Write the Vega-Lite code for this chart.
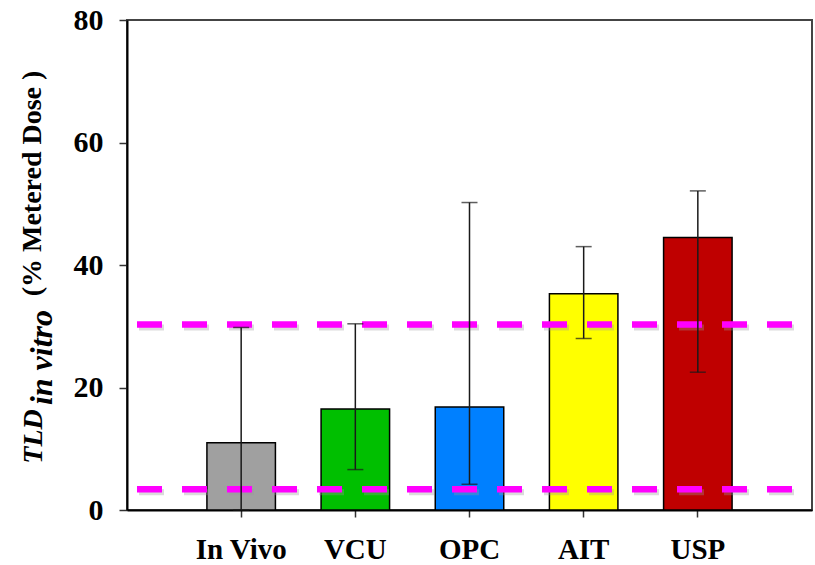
{
  "$schema": "https://vega.github.io/schema/vega-lite/v6.json",
  "width": 685,
  "height": 490,
  "autosize": {"type": "none"},
  "padding": {"left": 127, "top": 20, "right": 3, "bottom": 55},
  "background": "white",
  "config": {
    "view": {"stroke": "#444", "strokeWidth": 2},
    "font": "Liberation Serif",
    "axis": {
      "zindex": 1,
      "grid": false,
      "domainColor": "black",
      "domainWidth": 2,
      "tickColor": "#333",
      "tickWidth": 1.5,
      "labelFont": "Liberation Serif",
      "labelFontWeight": "bold",
      "labelFontSize": 29,
      "labelColor": "black",
      "titleFont": "Liberation Serif",
      "titleFontWeight": "bold",
      "titleColor": "black"
    }
  },
  "datasets": {
    "bars": [
      {"cat": "In Vivo", "value": 11.0, "lower": 0, "upper": 29.8},
      {"cat": "VCU", "value": 16.5, "lower": 6.6, "upper": 30.4},
      {"cat": "OPC", "value": 16.8, "lower": 4.2, "upper": 50.2},
      {"cat": "AIT", "value": 35.3, "lower": 28.0, "upper": 43.0},
      {"cat": "USP", "value": 44.5, "lower": 22.5, "upper": 52.1}
    ],
    "refs": [{"ref": 30.3}, {"ref": 3.4}]
  },
  "resolve": {"axis": {"y": "independent"}},
  "layer": [
    {
      "data": {"name": "bars"},
      "mark": {"type": "bar", "stroke": "black", "strokeWidth": 1.5},
      "encoding": {
        "x": {
          "field": "cat", "type": "nominal", "sort": null,
          "scale": {"paddingInner": 0.4, "paddingOuter": 0.7},
          "axis": {"title": null, "labelAngle": 0, "tickSize": 7, "labelPadding": 18, "domain": true}
        },
        "y": {
          "field": "value", "type": "quantitative",
          "scale": {"domain": [0, 80], "nice": false},
          "axis": {
            "orient": "left",
            "values": [0, 20, 40, 60, 80],
            "tickSize": 8,
            "labelPadding": 16,
            "labelFontSize": 30,
            "title": "(% Metered Dose )",
            "titleFontSize": 28,
            "titleAngle": -90,
            "titleAlign": "center",
            "titleBaseline": "alphabetic",
            "titleX": -87,
            "titleY": 163
          }
        },
        "color": {
          "field": "cat", "type": "nominal",
          "scale": {"domain": ["In Vivo", "VCU", "OPC", "AIT", "USP"], "range": ["#A0A0A0", "#00BF00", "#0080FF", "#FFFF00", "#BF0000"]},
          "legend": null
        }
      }
    },
    {
      "data": {"name": "refs"},
      "mark": {"type": "rule", "stroke": "#999999", "opacity": 0.35, "strokeWidth": 6, "strokeDash": [25, 20], "strokeDashOffset": 27, "yOffset": 3},
      "encoding": {
        "y": {
          "field": "ref", "type": "quantitative",
          "scale": {"domain": [0, 80], "nice": false},
          "axis": {
            "orient": "left",
            "labels": false, "ticks": false, "domain": false,
            "title": "TLD",
            "titleFontSize": 28,
            "titleFontStyle": "italic",
            "titleAngle": -90,
            "titleAlign": "center",
            "titleBaseline": "alphabetic",
            "titleX": -86,
            "titleY": 416
          }
        }
      }
    },
    {
      "data": {"name": "refs"},
      "mark": {"type": "rule", "stroke": "#FF00FF", "strokeWidth": 6.5, "strokeDash": [25, 20], "strokeDashOffset": 25},
      "encoding": {
        "y": {
          "field": "ref", "type": "quantitative",
          "scale": {"domain": [0, 80], "nice": false},
          "axis": {
            "orient": "left",
            "labels": false, "ticks": false, "domain": false,
            "title": "in vitro",
            "titleFontSize": 32,
            "titleFontStyle": "italic",
            "titleAngle": -90,
            "titleAlign": "center",
            "titleBaseline": "alphabetic",
            "titleX": -76,
            "titleY": 337
          }
        }
      }
    },
    {
      "data": {"name": "bars"},
      "mark": {"type": "rule", "stroke": "#1a1a1a", "strokeWidth": 1.5},
      "encoding": {
        "x": {"field": "cat", "type": "nominal", "sort": null},
        "y": {"field": "lower", "type": "quantitative", "scale": {"domain": [0, 80], "nice": false}, "axis": null},
        "y2": {"field": "upper"}
      }
    },
    {
      "data": {"name": "bars"},
      "mark": {"type": "tick", "color": "#1a1a1a", "size": 16, "thickness": 1.5},
      "encoding": {
        "x": {"field": "cat", "type": "nominal", "sort": null},
        "y": {"field": "upper", "type": "quantitative", "scale": {"domain": [0, 80], "nice": false}, "axis": null}
      }
    },
    {
      "data": {"name": "bars"},
      "mark": {"type": "tick", "color": "#1a1a1a", "size": 16, "thickness": 1.5},
      "encoding": {
        "x": {"field": "cat", "type": "nominal", "sort": null},
        "y": {"field": "lower", "type": "quantitative", "scale": {"domain": [0, 80], "nice": false}, "axis": null}
      }
    }
  ]
}
